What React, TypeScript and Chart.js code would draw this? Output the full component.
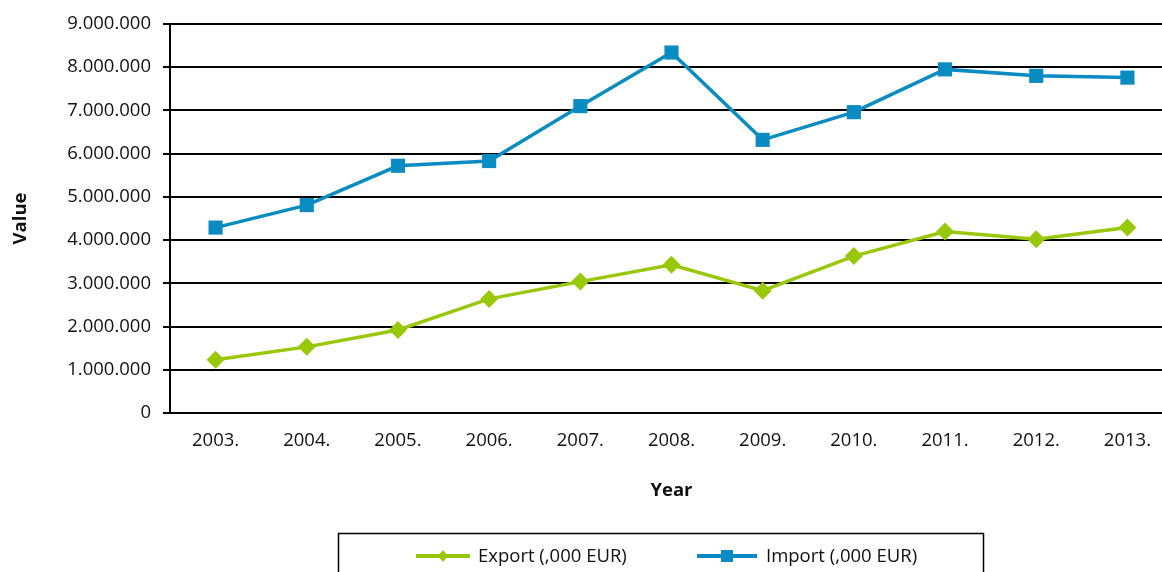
import React, { useEffect, useRef } from "react";
import { Chart, registerables } from "chart.js";

Chart.register(...registerables);

const years = ["2003.", "2004.", "2005.", "2006.", "2007.", "2008.", "2009.", "2010.", "2011.", "2012.", "2013."];
const exportValues = [1230000, 1530000, 1920000, 2640000, 3040000, 3430000, 2830000, 3630000, 4200000, 4020000, 4290000];
const importValues = [4290000, 4810000, 5720000, 5830000, 7100000, 8340000, 6320000, 6960000, 7950000, 7800000, 7760000];
const seriesLabels = ["Export (,000 EUR)", "Import (,000 EUR)"];
const yMin = 0;
const yMax = 9000000;
const yStep = 1000000;
const xTitle = "Year";
const yTitle = "Value";

const GREEN = "#99C80A";
const BLUE = "#0A8CC2";
const FONT = "'Open Sans', 'Noto Sans', sans-serif";
const FS = 18.5;

const fmt = (v: number) => String(Math.round(v)).replace(/\B(?=(\d{3})+(?!\d))/g, ".");

const boxLegend = {
  id: "boxLegend",
  afterDraw(chart: any) {
    const ctx = chart.ctx as CanvasRenderingContext2D;
    ctx.save();
    ctx.strokeStyle = "#000";
    ctx.lineWidth = 1.5;
    ctx.strokeRect(338.5, 533.5, 645, 60);
    const slots = [
      { x0: 416, x1: 470, tx: 478 },
      { x0: 697, x1: 757, tx: 766 },
    ];
    const y = 556;
    chart.data.datasets.forEach((ds: any, i: number) => {
      const s = slots[i];
      if (!s) return;
      ctx.strokeStyle = ds.borderColor;
      ctx.lineWidth = 4;
      ctx.beginPath();
      ctx.moveTo(s.x0, y);
      ctx.lineTo(s.x1, y);
      ctx.stroke();
      const cx = (s.x0 + s.x1) / 2;
      ctx.fillStyle = ds.borderColor;
      if (ds.pointStyle === "rectRot") {
        ctx.beginPath();
        ctx.moveTo(cx, y - 6);
        ctx.lineTo(cx + 5, y);
        ctx.lineTo(cx, y + 6);
        ctx.lineTo(cx - 5, y);
        ctx.closePath();
        ctx.fill();
      } else {
        ctx.fillRect(cx - 6, y - 6, 12, 12);
      }
      ctx.fillStyle = "#111";
      ctx.font = `${FS}px ${FONT}`;
      ctx.textBaseline = "middle";
      ctx.textAlign = "left";
      ctx.fillText(ds.label, s.tx, y + 1);
    });
    ctx.restore();
  },
};

export default function App() {
  const ref = useRef<HTMLCanvasElement | null>(null);

  useEffect(() => {
    if (!ref.current) return;
    Chart.defaults.font.family = FONT;
    const chart = new Chart(ref.current, {
      type: "line",
      data: {
        labels: years,
        datasets: [
          {
            label: seriesLabels[0],
            data: exportValues,
            borderColor: GREEN,
            backgroundColor: GREEN,
            borderWidth: 3.5,
            pointStyle: "rectRot",
            pointRadius: 9,
            pointHoverRadius: 9,
            pointBorderWidth: 0,
            tension: 0,
          },
          {
            label: seriesLabels[1],
            data: importValues,
            borderColor: BLUE,
            backgroundColor: BLUE,
            borderWidth: 3.5,
            pointStyle: "rect",
            pointRadius: 10,
            pointHoverRadius: 10,
            pointBorderWidth: 0,
            tension: 0,
          },
        ],
      },
      options: {
        responsive: false,
        maintainAspectRatio: false,
        animation: false,
        devicePixelRatio: 1,
        layout: { padding: { top: 24, right: 0, bottom: 70, left: 0 } },
        plugins: { legend: { display: false }, tooltip: { enabled: false } },
        scales: {
          x: {
            offset: true,
            afterFit: (s: any) => {
              s.height = 89;
            },
            grid: {
              display: true,
              drawOnChartArea: false,
              drawTicks: true,
              tickLength: 17,
              color: "rgba(0,0,0,0)",
              tickColor: "rgba(0,0,0,0)",
            },
            border: { display: true, color: "#000", width: 2 },
            ticks: { color: "#111", font: { size: FS }, padding: 0, maxRotation: 0 },
            title: {
              display: true,
              text: xTitle,
              color: "#111",
              font: { size: FS, weight: "bold" },
              padding: { top: 10, bottom: 0 },
            },
          },
          y: {
            min: yMin,
            max: yMax,
            afterFit: (s: any) => {
              s.width = 170;
            },
            grid: { color: "#000", lineWidth: 2, drawTicks: true, tickLength: 7, tickColor: "#000" },
            border: { display: true, color: "#000", width: 2 },
            ticks: {
              stepSize: yStep,
              color: "#111",
              font: { size: FS },
              padding: 12,
              callback: (v: any) => fmt(Number(v)),
            },
            title: {
              display: true,
              text: yTitle,
              color: "#111",
              font: { size: FS, weight: "bold" },
              padding: { top: 10, bottom: 0 },
            },
          },
        },
      },
      plugins: [boxLegend],
    });
    return () => chart.destroy();
  }, []);

  return (
    <div
      style={{
        position: "fixed",
        left: 0,
        top: 0,
        width: 1162,
        height: 572,
        overflow: "hidden",
        background: "#fff",
      }}
    >
      <div style={{ width: 1183, height: 572 }}>
        <canvas
          ref={ref}
          width={1183}
          height={572}
          style={{ display: "block", width: 1183, height: 572 }}
        />
      </div>
    </div>
  );
}
